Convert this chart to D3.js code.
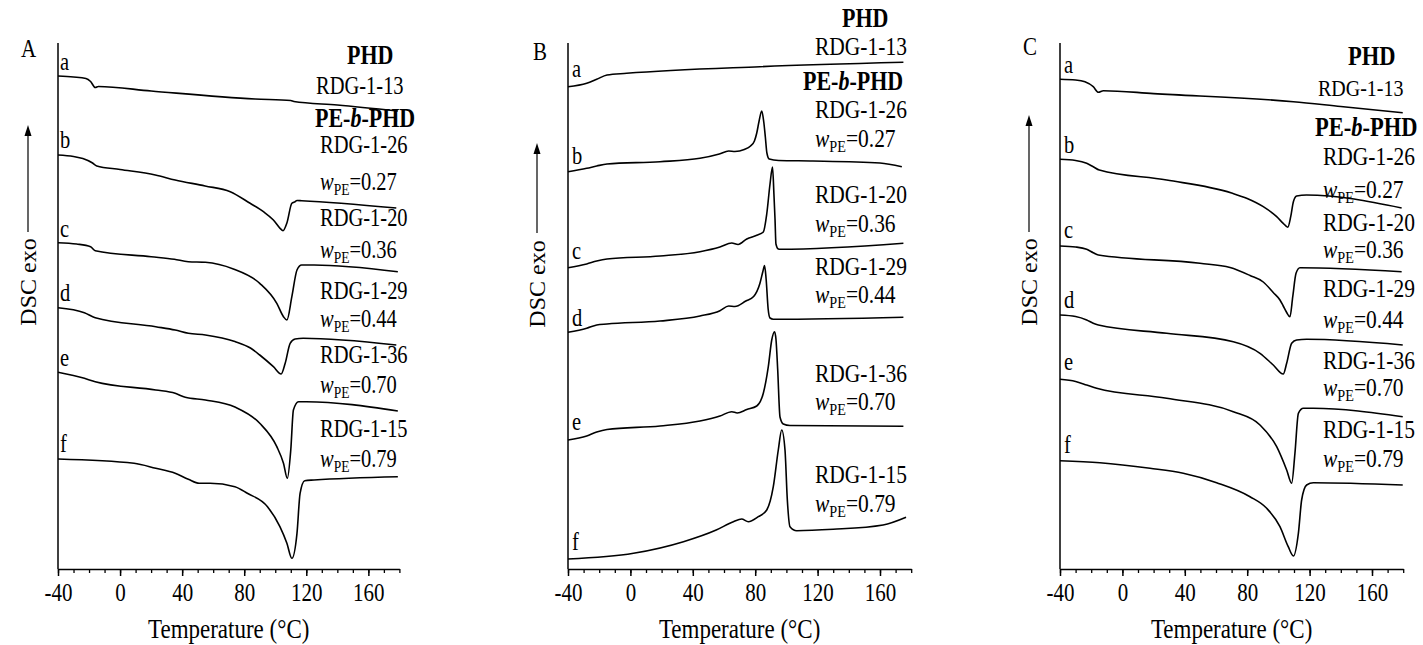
<!DOCTYPE html>
<html>
<head>
<meta charset="utf-8">
<script src="https://cdn.jsdelivr.net/npm/d3@7"></script>
<style>
  body { margin: 0; background: #fff; }
  text { font-family: "Liberation Serif", "Times New Roman", serif; fill: #000; }
</style>
</head>
<body>
<svg id="chart" width="1423" height="645"></svg>
<script>
// ---- data (temperature in °C, heat flow in arbitrary units, offset curves) ----
const tempTicks = [-40, 0, 40, 80, 120, 160];
const minorTicks = d3.range(-40, 181, 10);
const curveLetters = ["a", "b", "c", "d", "e", "f"];
const sampleNames = ["RDG-1-13", "RDG-1-26", "RDG-1-20", "RDG-1-29", "RDG-1-36", "RDG-1-15"];
const wPE = [null, "0.27", "0.36", "0.44", "0.70", "0.79"];

// panel A
const dscA_a = [[-40,493],[-30,492],[-22,490.5],[-19,487.5],[-16,481.5],[-14,482.5],[20,478],[87,470],[110,468.5],[112,467.5],[140,464],[179,458]];
const dscA_b = [[-40,414],[-30,412.5],[-24,410.5],[-18,406.3],[-15,403],[0,399.5],[22.7,394],[35.5,389],[54.8,383],[71,377.3],[83.8,365.7],[92.4,357.3],[98.8,349],[103.1,340.7],[105,338.3],[107.5,346],[110.7,365.7],[112.8,367.3],[114,368.5],[117,368.3],[178,361]];
const dscA_c = [[-40,326.3],[-28,325],[-19,322.3],[-16,318.3],[20,312.3],[35,309.7],[44,307.3],[55,306.7],[73,300],[90,285.7],[101,265.7],[105.3,252.3],[107.5,249],[110.7,272.3],[114,299],[117,304],[125,304],[179,297.3]];
const dscA_d = [[-40,261.3],[-23,256.3],[-16,251.3],[23,242.3],[35.5,239],[44,235.7],[55,234],[74,227.5],[84,221],[90,214],[98.8,202.3],[103.8,195],[106.4,205.7],[109.6,225.7],[112.8,230],[118,230.7],[178,224]];
const dscA_e = [[-40,196.7],[-23,190.7],[-16,187.3],[23,179],[35.5,175.7],[42,171.7],[55,169],[74,162],[90,145.7],[101,122.3],[105.3,105.7],[107.8,90.7],[110,119],[111.7,159],[115,167.3],[120,167.3],[179,158]];
const dscA_f = [[-40,110],[9,105.7],[23,100.7],[35.5,95.7],[44,89.7],[51,85.7],[58,85.7],[74,82.3],[82,75.7],[95,62.3],[103,42.3],[107.5,25.7],[110.7,10.7],[114,35.7],[116,75.7],[119,88.3],[125,89],[179,92.3]];

// panel B
const dscB_a = [[-40,482.3],[-28,485.7],[-21.6,489.7],[-15,494],[-2.4,495.7],[83,502.3],[175,506.7]];
const dscB_b = [[-40,397.3],[-28,400.7],[-21.6,403],[-15,405],[19,407.3],[44.6,410.7],[57,415],[63,418],[67,417.5],[73,419.5],[77,423],[79.5,428],[81,436],[82.5,448],[84.2,458],[85.5,447],[86.5,432],[87.5,416],[89,410],[95,408.5],[117,408],[160,406],[174,402.3]];
const dscB_c = [[-40,301.3],[-28,305],[-21.6,308],[-15,310],[19,313],[44.6,317.3],[57.4,322],[65,326],[69,324.5],[74.6,330],[81,333.7],[85.2,337],[87.4,355],[89.5,385],[91.1,402],[92,375],[92.7,350],[93.3,325],[94.8,320],[96,319.7],[175,325.7]];
const dscB_d = [[-40,236.7],[-28,240.7],[-21.6,244],[-15,245],[19,248],[44.6,253],[57.4,258.3],[63,263],[67,262.5],[74,268],[79,272.5],[83,285.5],[85,298],[86,303.5],[87,290],[88.3,260],[89.5,251],[91.6,249.7],[175,251.7]];
const dscB_e = [[-40,129],[-28,133],[-21.6,137],[-15,139.5],[19,143],[44.6,148],[57.4,153],[65,157.3],[68.5,156],[74.6,159.5],[81,163],[85.2,175.7],[88.4,202.3],[90.6,229],[92.4,237.3],[93.3,230],[94.4,200],[95.9,152],[98,145],[102.3,143.5],[175,142.7]];
const dscB_f = [[-40,10],[2,15.7],[34,27.3],[55,39],[66,47.3],[71.3,50],[75.6,47.3],[82,52.3],[87.4,59],[91.6,82.3],[94.8,119],[97,139],[99.1,119],[100.6,69],[102.3,42.3],[106.6,38.3],[130,39.7],[162,44],[176.7,51.7]];

// panel C
const dscC_a = [[-40,489.7],[-30,489],[-24,487.3],[-18.7,482.3],[-15.4,476.7],[-12.2,478.3],[20,475.4],[109.6,467.3],[140,462.5],[179.7,456.3]];
const dscC_b = [[-40,409.7],[-30,408.5],[-22.9,405.7],[-18.7,402.3],[-14.8,399],[28.4,389],[70,376],[80,370.5],[90.3,362.3],[98.9,352.3],[103.1,345.7],[106,341.7],[107.9,352.3],[109.6,367.3],[111.7,373],[118,374],[179,361]];
const dscC_c = [[-40,323],[-30,322],[-22.9,319.7],[-18.7,316.3],[-15.4,314],[49.7,305.7],[69,301.5],[81.8,293.5],[90.3,287],[96.7,276.5],[101,269],[103.1,263],[105.3,256.5],[107.4,252.3],[109.2,272.3],[111.3,295.7],[113.8,301.3],[179,297.3]];
const dscC_d = [[-40,254],[-30,252.5],[-22.9,249],[-18.7,245.7],[-15.4,244],[28.4,235.7],[71.1,227.3],[88.2,215.7],[96.7,204],[103.1,195],[105.3,205.7],[108.5,225.7],[111.7,229],[118.1,229.7],[179.7,224]];
const dscC_e = [[-40,189.7],[-30,187.5],[-22.9,184],[-16.5,180.7],[28.4,170.7],[71.1,157.3],[88.2,144],[98.9,122.3],[105.3,99],[108.5,85.7],[110.6,115.7],[112.8,155.7],[116,160.7],[122.4,160.7],[179.7,152.3]];
const dscC_f = [[-40,108.3],[-14.4,106.3],[17.7,100.7],[39,95.7],[60.4,86.3],[81.8,72.3],[92.5,60.7],[101,42.3],[106.3,22.3],[109.6,13],[112.8,35.7],[114.9,69],[118.1,84],[122.4,86.3],[179.7,84]];

// ---- layout ----
const SY = 1.2;           // the original figure is a bit stretched vertically
const plotTop = 43, plotBottom = 569;

const panels = [
  { tag: "A", curves: [dscA_a, dscA_b, dscA_c, dscA_d, dscA_e, dscA_f],
    left: 58, right: 399.4, tagPos: [21, 57], letterX: 60, letterY: [70, 148, 237, 301, 366, 452],
    arrow: { x: 28, tip: 125, tail: 232 }, dscY: 282, fs: 20.5, fs13: 20.5, fsBold: 22,
    phd: [347, 64], first: [316, 94], block: [315, 127], labelX: 320,
    rows: [153, 190, 226, 258, 299, 327, 363, 393, 437, 467] },
  { tag: "B", curves: [dscB_a, dscB_b, dscB_c, dscB_d, dscB_e, dscB_f],
    left: 568, right: 911.2, tagPos: [533, 60], letterX: 572, letterY: [77, 164, 259, 326, 430, 550],
    arrow: { x: 537, tip: 143, tail: 233 }, dscY: 284, fs: 21.5, fs13: 21.5, fsBold: 22,
    phd: [842, 27], first: [815, 55], block: [803, 90], labelX: 815,
    rows: [118, 147, 203, 232, 275, 303, 382, 410, 483, 512] },
  { tag: "C", curves: [dscC_a, dscC_b, dscC_c, dscC_d, dscC_e, dscC_f],
    left: 1060, right: 1403.2, tagPos: [1023, 55], letterX: 1064, letterY: [73, 153, 238, 308, 370, 453],
    arrow: { x: 1029, tip: 115, tail: 232 }, dscY: 282, fs: 21.5, fs13: 20, fsBold: 22.5,
    phd: [1348, 65], first: [1318, 96], block: [1315, 136], labelX: 1323,
    rows: [165, 198, 231, 258, 297, 328, 369, 396, 438, 467] }
];

const svg = d3.select("#chart");
const y = d3.scaleLinear().domain([0, 526]).range([plotBottom, plotTop]);

// text stretched vertically like the source image
function stext(g, x, yy, size) {
  return g.append("text")
    .attr("transform", `translate(${x},${yy}) scale(1,${SY})`)
    .attr("font-size", size);
}

function wLabel(g, x, yy, size, w) {
  const t = stext(g, x, yy, size);
  t.append("tspan").attr("font-style", "italic").text("w");
  t.append("tspan").attr("font-size", size * 0.66).attr("dy", 4).text("PE");
  t.append("tspan").attr("dy", -4).text("=" + w);
}

panels.forEach(p => {
  const x = d3.scaleLinear().domain([-40, 180]).range([p.left, p.right]);
  const g = svg.append("g");

  // left axis line (no ticks)
  g.append("line")
    .attr("x1", p.left).attr("x2", p.left)
    .attr("y1", plotTop).attr("y2", plotBottom)
    .attr("stroke", "#000").attr("stroke-width", 1.5);

  // minor ticks
  g.append("g")
    .attr("transform", `translate(0,${plotBottom})`)
    .call(d3.axisBottom(x).tickValues(minorTicks).tickSize(4).tickFormat(""))
    .call(a => a.select(".domain").remove())
    .selectAll("line").attr("stroke-width", 1.3);

  // major ticks + labels
  const ax = g.append("g")
    .attr("transform", `translate(0,${plotBottom})`)
    .call(d3.axisBottom(x).tickValues(tempTicks).tickSize(7).tickSizeOuter(0).tickFormat(d => String(d)));
  ax.selectAll("path, line").attr("stroke-width", 1.5);
  ax.selectAll("text")
    .attr("y", null).attr("dy", null)
    .attr("transform", `translate(0,32) scale(1,${SY})`)
    .attr("font-size", 21);

  // axis title
  stext(g, (p.left + p.right) / 2, 638, 23).attr("text-anchor", "middle").text("Temperature (°C)");

  // DSC exo with arrow
  g.append("text")
    .attr("transform", `translate(${p.arrow.x + 8},${p.dscY}) rotate(-90)`)
    .attr("text-anchor", "middle").attr("font-size", 24)
    .text("DSC exo");
  g.append("line")
    .attr("x1", p.arrow.x).attr("x2", p.arrow.x)
    .attr("y1", p.arrow.tail).attr("y2", p.arrow.tip + 8)
    .attr("stroke", "#000").attr("stroke-width", 1.2);
  g.append("path")
    .attr("d", `M${p.arrow.x},${p.arrow.tip}L${p.arrow.x - 3.5},${p.arrow.tip + 11}L${p.arrow.x + 3.5},${p.arrow.tip + 11}Z`)
    .attr("fill", "#000");

  // panel tag
  stext(g, p.tagPos[0], p.tagPos[1], 21).text(p.tag);

  // curves
  const line = d3.line().x(d => x(d[0])).y(d => y(d[1])).curve(d3.curveMonotoneX);
  g.selectAll(".curve").data(p.curves).enter().append("path")
    .attr("class", "curve")
    .attr("d", line)
    .attr("fill", "none").attr("stroke", "#000").attr("stroke-width", 1.6)
    .attr("stroke-linejoin", "round");

  // curve letters
  curveLetters.forEach((c, i) => stext(g, p.letterX, p.letterY[i], 20.5).text(c));

  // sample labels
  stext(g, p.phd[0], p.phd[1], p.fsBold).attr("font-weight", "bold").text("PHD");
  stext(g, p.first[0], p.first[1], p.fs13).text(sampleNames[0]);
  const blk = stext(g, p.block[0], p.block[1], p.fsBold).attr("font-weight", "bold");
  blk.append("tspan").text("PE-");
  blk.append("tspan").attr("font-style", "italic").text("b");
  blk.append("tspan").text("-PHD");
  for (let i = 1; i < sampleNames.length; i++) {
    stext(g, p.labelX, p.rows[2 * (i - 1)], p.fs).text(sampleNames[i]);
    wLabel(g, p.labelX, p.rows[2 * (i - 1) + 1], p.fs, wPE[i]);
  }
});
</script>
</body>
</html>
